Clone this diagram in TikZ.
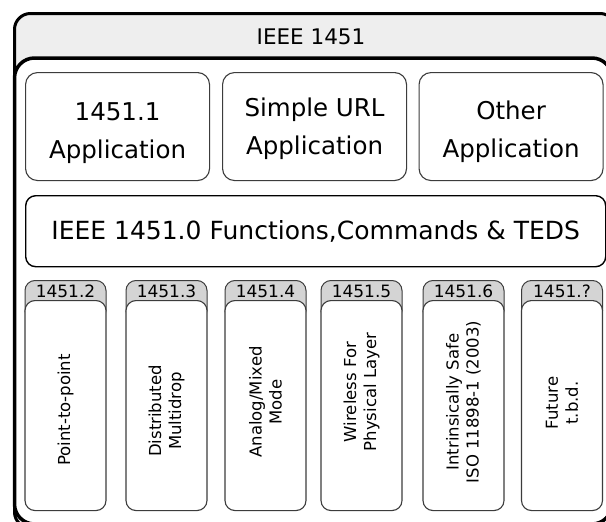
\documentclass[tikz,border=0pt]{standalone}
\usepackage{fontspec}
\setmainfont{DejaVu Sans}

\definecolor{bandgray}{HTML}{EEEEEE}
\definecolor{tabgray}{HTML}{D4D4D4}
\definecolor{edgegray}{HTML}{3C3C3C}

\begin{document}
\begin{tikzpicture}[x = 1pt, y = -1pt,
	appbox/.style = {draw = edgegray, line width = 1.1pt, rounded corners = 12pt, fill = white, minimum width = 184pt, minimum height = 108pt, anchor = north west},
	apptext/.style = {align = center, font = \fontsize{24.5}{38}\selectfont},
	tabbox/.style = {draw = edgegray, line width = 1pt, fill = tabgray, rounded corners = 10pt, minimum width = 81pt, minimum height = 40pt, anchor = north},
	colbox/.style = {draw = edgegray, line width = 1.1pt, fill = white, rounded corners = 10pt, minimum width = 81pt, minimum height = 210pt, anchor = north},
	tablabel/.style = {font = \fontsize{17}{20}\selectfont},
	collabel/.style = {rotate = 90, align = center, font = \fontsize{16.5}{20}\selectfont}]
				%	frame setup
				
				\def\xmax{606}
				\def\ymax{522}
				
				\useasboundingbox (0, 0) rectangle (\xmax, \ymax);
				\clip (0, 0) rectangle (\xmax, \ymax);
				
				%	outer frame with title band
				\draw[line width = 3pt, fill = bandgray, rounded corners = 16pt] (14.5, 13.5) rectangle (616, 528);
				\node[font = \fontsize{21.5}{24}\selectfont] (title) at (311, 37) {IEEE 1451};
				
				%	inner frame
				\draw[line width = 3.5pt, fill = white, rounded corners = 20pt] (14.5, 58) rectangle (612, 524);
				
				%	applications
				\node[appbox] (app1) at (25, 72) {};
				\node[appbox] (app2) at (222, 72) {};
				\node[appbox] (app3) at (418.5, 72) {};
				\node[apptext, yshift = -7pt] (app1text) at (app1) {1451.1\\Application};
				\node[apptext, yshift = -2pt] (app2text) at (app2) {Simple URL\\Application};
				\node[apptext, yshift = -5pt] (app3text) at (app3) {Other\\Application};
				
				%	1451.0 layer
				\node[draw, line width = 1.4pt, rounded corners = 10pt, minimum width = 580pt, minimum height = 71pt, anchor = north west, font = \fontsize{25}{30}\selectfont] (core) at (25, 195) {IEEE 1451.0 Functions,Commands \& TEDS};
				
				%	physical layers
				\foreach \x/\num/\txt/\dy [count = \i] in {65.5/2/{Point-to-point}/5, 166.5/3/{Distributed\\Multidrop}/6, 265.5/4/{Analog/Mixed\\Mode}/-3, 361.5/5/{Wireless For\\Physical Layer}/-13, 463.5/6/{Intrinsically Safe\\ISO 11898-1 (2003)}/-3, 562/?/{Future\\t.b.d.}/-2}
				{
					\node[tabbox] (tab\i) at (\x, 280) {};
					\node[colbox] (col\i) at (\x, 300) {};
					\node[tablabel] (num\i) at (\x, 291.5) {1451.\num};
					\node[collabel] (txt\i) at (\x, {405 + \dy}) {\txt};
				}
\end{tikzpicture}
\end{document}
